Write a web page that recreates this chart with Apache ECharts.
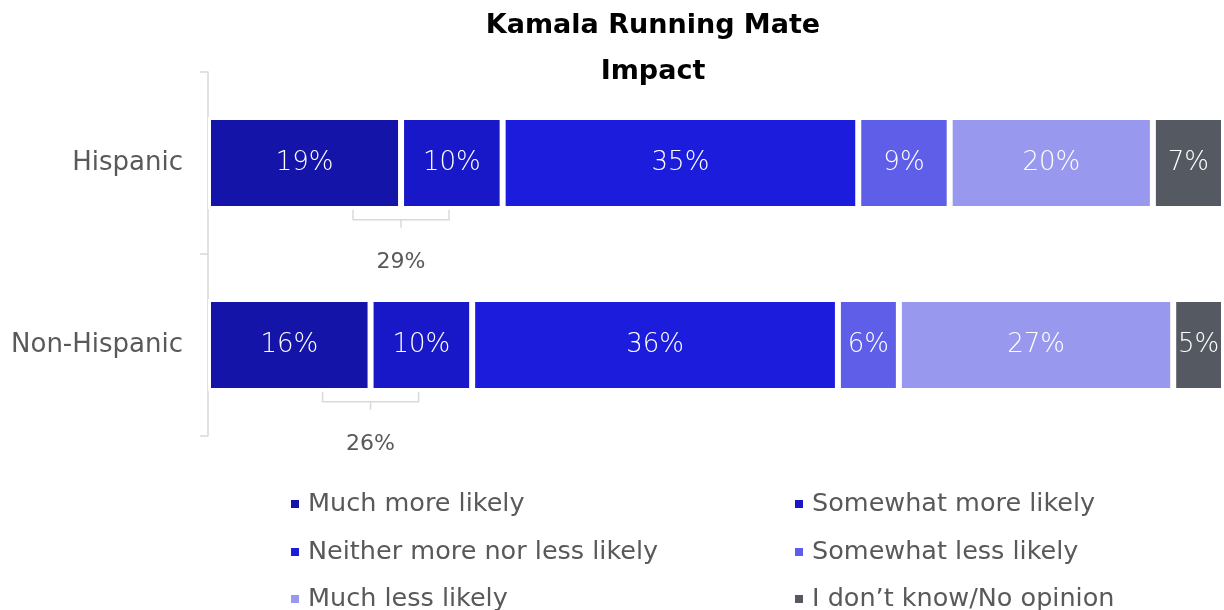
<!DOCTYPE html>
<html><head><meta charset="utf-8">
<script src="https://cdn.jsdelivr.net/npm/echarts@6/dist/echarts.min.js"></script>
<style>html,body{margin:0;padding:0;background:#fff}#c{width:1224px;height:610px}</style>
</head><body><div id="c"></div>
<script>
const categories = ['Hispanic', 'Non-Hispanic'];
const seriesNames = ['Much more likely','Somewhat more likely','Neither more nor less likely','Somewhat less likely','Much less likely','I don\u2019t know/No opinion'];
const muchMore = [19, 16];
const somewhatMore = [10, 10];
const neither = [35, 36];
const somewhatLess = [9, 6];
const muchLess = [20, 27];
const dontKnow = [7, 5];
const moreLikelyTotals = [29, 26];
const colors = ['#1414A8','#1818C8','#1C1CDC','#5E5EE8','#9898EE','#555A62'];
const FONT = '"DejaVu Sans", sans-serif';

const values = [muchMore, somewhatMore, neither, somewhatLess, muchLess, dontKnow];
const chart = echarts.init(document.getElementById('c'));
const barSeries = values.map((v, i) => ({
  name: seriesNames[i], type: 'bar', stack: 'total', barWidth: '50.5%',
  data: v,
  itemStyle: { color: colors[i], borderColor: '#fff', borderWidth: 3 },
  label: { show: true, position: 'inside', formatter: '{c}%', color: '#fff', fontSize: 26, fontFamily: FONT, fontWeight: 'lighter' },
  emphasis: { disabled: true }
}));
const bracketData = categories.map((c, i) => [muchMore[i], i, moreLikelyTotals[i]]);
const bracketSeries = {
  type: 'custom', silent: true, data: bracketData, z: 5,
  encode: { x: 0, y: 1 },
  renderItem: function (params, api) {
    const p = api.coord([api.value(0), api.value(1)]);
    const h = api.size([0, 1])[1] * 0.48;
    const b = p[1] + h / 2;
    const x = p[0], w = 48;
    const ls = { stroke: '#D9D9D9', lineWidth: 1.5, fill: null };
    return { type: 'group', children: [
      { type: 'polyline', shape: { points: [[x - w, b + 3], [x - w, b + 13], [x + w, b + 13], [x + w, b + 3]] }, style: ls },
      { type: 'line', shape: { x1: x, y1: b + 13, x2: x, y2: b + 21 }, style: ls },
      { type: 'text', style: { x: x, y: b + 56, text: api.value(2) + '%', fill: '#595959', fontSize: 22, fontFamily: FONT, align: 'center', verticalAlign: 'middle' } }
    ]};
  }
};
function legendRow(top, a, b) {
  return {
    orient: 'horizontal', left: 284, top: top, itemWidth: 10, itemHeight: 10, itemGap: 0, icon: 'rect',
    textStyle: { color: '#595959', fontSize: 25.5, fontFamily: FONT, lineHeight: 28, padding: [0, 0, 0, 3] },
    selectedMode: false,
    data: [{ name: seriesNames[a], textStyle: { width: 485 } }, { name: seriesNames[b] }]
  };
}
chart.setOption({
  animation: false,
  title: { text: 'Kamala Running Mate\nImpact', left: 648, top: -2, textAlign: 'center',
    textStyle: { fontSize: 27, fontWeight: 'bold', color: '#000', fontFamily: FONT, lineHeight: 46 } },
  grid: { left: 208, top: 72, width: 1018, height: 364 },
  xAxis: { type: 'value', min: 0, max: 100, show: false },
  yAxis: { type: 'category', data: categories, inverse: true,
    axisLine: { lineStyle: { color: '#D9D9D9', width: 1.5 } },
    axisTick: { show: true, length: 8, lineStyle: { color: '#D9D9D9', width: 1.5 } },
    axisLabel: { color: '#595959', fontSize: 26, fontFamily: FONT, margin: 25 } },
  legend: [legendRow(485, 0, 1), legendRow(533, 2, 3), legendRow(580, 4, 5)],
  series: barSeries.concat([bracketSeries])
});
</script></body></html>
